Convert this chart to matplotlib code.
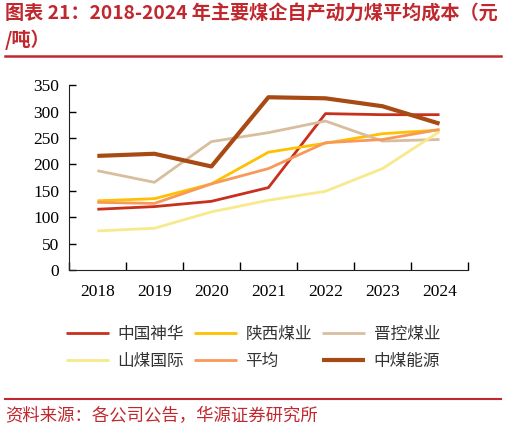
import matplotlib.pyplot as plt
import numpy as np

plt.rcParams['font.family'] = ['Noto Sans CJK SC', 'DejaVu Sans']

years = ['2018', '2019', '2020', '2021', '2022', '2023', '2024']
shenhua = [115, 120, 130, 156, 296, 294, 294]
shaanxi = [131, 135, 163, 223, 240, 258, 265]
jinkong = [188, 166, 243, 260, 282, 244, 247]
shanmei = [74, 79, 110, 132, 149, 192, 262]
average = [128, 126, 163, 192, 241, 247, 266]
zhongmei = [216, 220, 196, 327, 325, 310, 277]

series = [
    ('中国神华', shenhua, '#C8301C', 2.0),
    ('陕西煤业', shaanxi, '#FFC000', 2.0),
    ('晋控煤业', jinkong, '#D8BE9E', 2.0),
    ('山煤国际', shanmei, '#F7E98C', 2.0),
    ('平均', average, '#F8995A', 2.0),
    ('中煤能源', zhongmei, '#A84A14', 3.0),
]

red = '#C0282E'
fig = plt.figure(figsize=(5.06, 4.32), dpi=100)
ax = fig.add_axes([0.136, 0.375, 0.789, 0.428])

x = np.arange(len(years))
for name, vals, col, lw in series:
    ax.plot(x, vals, color=col, lw=lw, label=name, solid_capstyle='butt')

ax.set_xlim(-0.5, len(years) - 0.5)
ax.set_ylim(0, 350)
ax.set_yticks(range(0, 351, 50))
ax.set_xticks(np.arange(-0.5, len(years), 1))
ax.set_xticklabels([])
ax.set_xticks(x, minor=True)
ax.set_xticklabels(years, minor=True, family='Liberation Serif', fontsize=12.5)
ax.tick_params(axis='x', which='minor', length=0, pad=10)
ax.tick_params(axis='x', which='major', direction='in', length=6, width=1)
ax.tick_params(axis='y', direction='in', length=5, width=1, pad=7)
for lab in ax.get_yticklabels():
    lab.set_family('Liberation Serif')
    lab.set_fontsize(12.5)
for s in ['top', 'right']:
    ax.spines[s].set_visible(False)
for s in ['left', 'bottom']:
    ax.spines[s].set_color('#222222')

# legend filled row by row, like the original
handles, labels = ax.get_legend_handles_labels()
order = [0, 3, 1, 4, 2, 5]
fig.legend([handles[i] for i in order], [labels[i] for i in order], ncol=3,
           loc='center', bbox_to_anchor=(0.5, 0.194), frameon=False, fontsize=12,
           handlelength=2.6, columnspacing=0.6, handletextpad=0.5,
           labelspacing=0.6, labelcolor='#333333')

fig.text(0.01, 0.968, '图表 21：2018-2024 年主要煤企自产动力煤平均成本（元', color=red,
         fontsize=13.8, fontweight='bold', va='center', ha='left')
fig.text(0.01, 0.907, '/吨）', color=red, fontsize=13.8, fontweight='bold', va='center', ha='left')
fig.add_artist(plt.Line2D([0.01, 0.99], [0.87, 0.87], color=red, lw=1.8))
fig.add_artist(plt.Line2D([0.01, 0.99], [0.077, 0.077], color=red, lw=1.5))
fig.text(0.01, 0.037, '资料来源：各公司公告，华源证券研究所', color=red, fontsize=12.5,
         va='center', ha='left')

fig.savefig('out.png', dpi=100)
